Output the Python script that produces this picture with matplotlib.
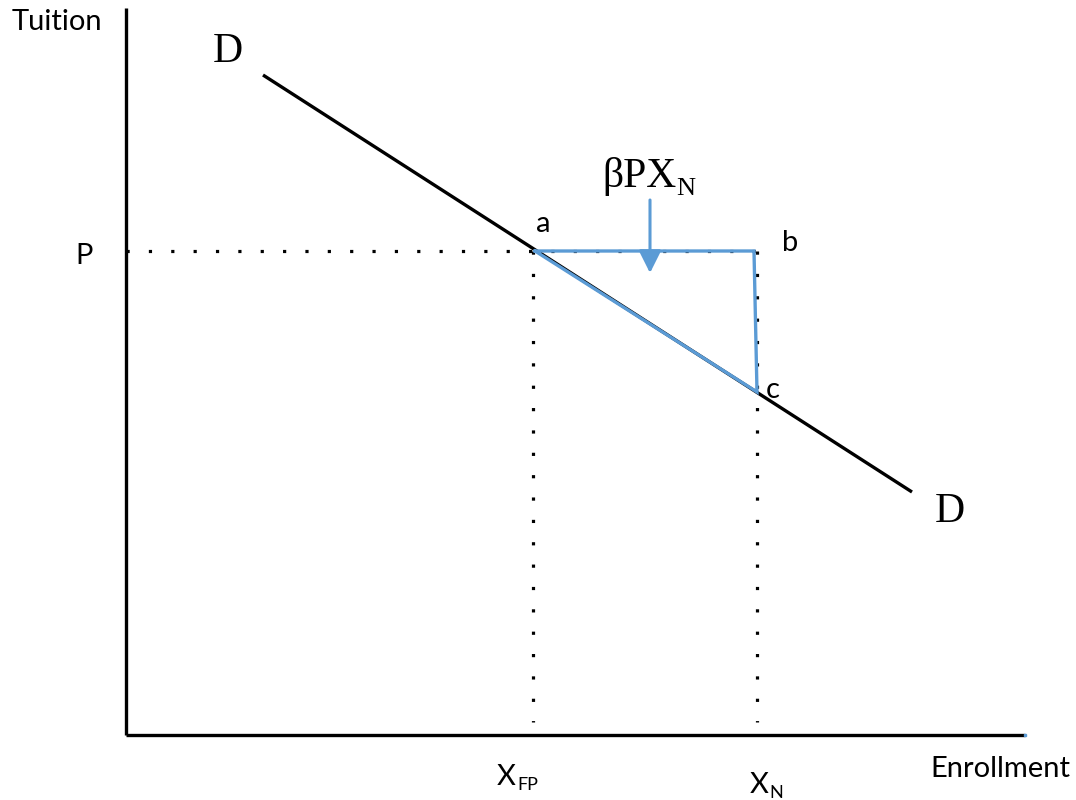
import matplotlib.pyplot as plt

# --- Diagram values (pixel-like coordinates, y grows downward) ---
demand_x = [263, 912]
demand_y = [75, 492]
price = 251
x_fp = 533
x_n = 757
point_a = (535, 251)
point_b = (754, 251)
point_c = (757, 392)
axis_origin = (126, 735)
axis_top = 8
axis_right = 1025
dot_bottom = 722

blue = '#5B9BD5'
sans = ['Lato', 'DejaVu Sans']
serif = ['Liberation Serif', 'DejaVu Serif']

fig = plt.figure(figsize=(10.76, 8), dpi=100)
ax = fig.add_axes([0, 0, 1, 1])
ax.set_xlim(0, 1076)
ax.set_ylim(800, 0)
ax.axis('off')

# axes
ax.plot([axis_origin[0], axis_origin[0]], [axis_top, axis_origin[1]], color='black', lw=2.4,
        solid_capstyle='butt')
ax.plot([axis_origin[0], axis_right], [axis_origin[1], axis_origin[1]], color='black', lw=2.4,
        solid_capstyle='butt')
ax.plot([axis_right], [axis_origin[1]], 's', color=blue, ms=2)

# dotted guide lines
dots = (0, (1, 6))
ax.plot([axis_origin[0], x_n], [price, price], color='black', lw=2.3, linestyle=dots)
ax.plot([x_fp, x_fp], [price, dot_bottom], color='black', lw=2.3, linestyle=dots)
ax.plot([x_n, x_n], [price, dot_bottom], color='black', lw=2.3, linestyle=dots)

# demand curve
ax.plot(demand_x, demand_y, color='black', lw=2.4, solid_capstyle='butt')

# blue triangle a-b-c
ax.plot([point_a[0], point_b[0], point_c[0], point_a[0]],
        [point_a[1], point_b[1], point_c[1], point_a[1]],
        color=blue, lw=2.4, solid_joinstyle='miter')

# arrow
ax.annotate('', xy=(650, 273), xytext=(650, 200),
            arrowprops=dict(arrowstyle='-|>', color=blue, lw=2.2, mutation_scale=34,
                            shrinkA=0, shrinkB=0))

# labels
def label(x, y, s, size, fam, ha='left'):
    ax.text(x, y, s, fontsize=size, family=fam, va='baseline', ha=ha)

label(12, 30, 'Tuition', 21, sans)
label(1070, 777, 'Enrollment', 21, sans, ha='right')
label(75, 264, 'P', 21, sans)
label(536, 232, 'a', 21, sans)
label(782, 251, 'b', 21, sans)
label(766, 398, 'c', 21, sans)
label(213, 62, 'D', 30, serif)
label(935, 522, 'D', 30, serif)

label(497, 785, 'X', 21, sans)
label(517, 790, 'FP', 13, sans)
label(750, 793, 'X', 21, sans)
label(769, 798, 'N', 13, sans)

label(602, 187, '\u03b2PX', 30, serif)
label(676, 195, 'N', 19, serif)

fig.savefig('out.png', dpi=100)
